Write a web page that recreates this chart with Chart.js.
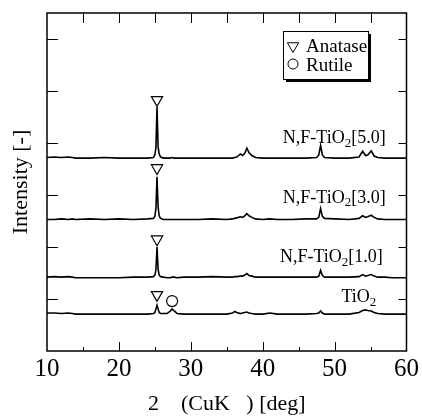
<!DOCTYPE html>
<html>
<head>
<meta charset="utf-8">
<script src="https://cdn.jsdelivr.net/npm/chart.js@4.4.0/dist/chart.umd.min.js"></script>
<style>
html, body { margin: 0; padding: 0; background: #fff; }
</style>
</head>
<body>
<canvas id="xrd" width="422" height="417"></canvas>
<script>
// 2theta positions shared by all patterns
const twoTheta = [
  10, 11, 12, 13, 13.5, 14, 16, 18, 20, 22,
  24, 24.8, 25.0, 25.15, 25.3, 25.45, 25.6, 25.8, 26.2, 26.7,
  27.1, 27.4, 27.7, 28.1, 29, 31, 33, 35, 35.8, 36.1,
  36.4, 36.9, 37.2, 37.5, 37.8, 38.1, 38.5, 39.0, 40, 41,
  42, 44, 46, 47.5, 47.8, 48.05, 48.3, 48.6, 50, 52,
  53.4, 53.9, 54.3, 54.6, 55.1, 55.5, 56, 57, 58, 60
];

// intensities above each pattern's own baseline
const intTiO2 = [
  0.02, 0.02, 0.01, 0.02, 0.01, 0, 0, 0, 0, 0,
  0, 0.01, 0.03, 0.10, 0.17, 0.10, 0.03, 0.01, 0.01, 0.01,
  0.05, 0.10, 0.06, 0.01, 0, 0, 0, 0, 0.02, 0.05,
  0.03, 0.01, 0.02, 0.03, 0.04, 0.02, 0.01, 0, 0, 0.02,
  0, 0, 0, 0.01, 0.02, 0.06, 0.02, 0, 0, 0,
  0.03, 0.07, 0.08, 0.07, 0.06, 0.03, 0.01, 0, 0, 0
];
const intNF10 = [
  0.02, 0.03, 0.02, 0.03, 0.02, 0.01, 0.01, 0.01, 0.01, 0.02,
  0.02, 0.03, 0.06, 0.16, 0.60, 0.18, 0.06, 0.03, 0.02, 0.01,
  0.01, 0.02, 0.02, 0.01, 0.02, 0.02, 0.03, 0.02, 0.02, 0.03,
  0.03, 0.04, 0.04, 0.06, 0.09, 0.05, 0.04, 0.02, 0.02, 0.02,
  0.02, 0.02, 0.02, 0.02, 0.04, 0.15, 0.05, 0.02, 0.02, 0.02,
  0.03, 0.07, 0.04, 0.05, 0.07, 0.04, 0.02, 0.02, 0.01, 0.01
];
const intNF30 = [
  0.01, 0.01, 0.02, 0.01, 0.02, 0.01, 0.02, 0.01, 0.02, 0.01,
  0.02, 0.03, 0.07, 0.22, 0.83, 0.25, 0.08, 0.03, 0.01, 0.01,
  0.01, 0.01, 0.01, 0.01, 0.01, 0.01, 0.02, 0.01, 0.02, 0.03,
  0.04, 0.06, 0.05, 0.08, 0.12, 0.08, 0.05, 0.02, 0.01, 0.02,
  0.01, 0.01, 0.02, 0.02, 0.05, 0.22, 0.07, 0.03, 0.02, 0.01,
  0.03, 0.08, 0.05, 0.06, 0.09, 0.05, 0.02, 0.01, 0.01, 0.01
];
const intNF50 = [
  0.01, 0.02, 0.01, 0.02, 0.01, 0, 0, 0.01, 0, 0,
  0, 0.01, 0.06, 0.20, 0.98, 0.22, 0.08, 0.02, 0, 0,
  0, 0.01, 0, 0, 0, 0, 0, 0, 0, 0.01,
  0.02, 0.08, 0.05, 0.09, 0.19, 0.10, 0.05, 0.01, 0, 0,
  0, 0, 0, 0.01, 0.06, 0.24, 0.06, 0.01, 0, 0,
  0.02, 0.13, 0.05, 0.06, 0.14, 0.04, 0.01, 0, 0, 0
];

const sampleNames = ['TiO2', 'N,F-TiO2[1.0]', 'N,F-TiO2[3.0]', 'N,F-TiO2[5.0]'];
const patterns = [intTiO2, intNF10, intNF30, intNF50];
const offsets = [0.71, 1.40, 2.52, 3.71];

// peak markers
const anataseX = 25.3;
const anataseY = [1.08, 2.15, 3.52, 4.83];
const rutileX = 27.4;
const rutileY = [0.96];

// name label anchors (right edge, text baseline)
const labelX = [55.8, 56.7, 57.1, 57.1];
const labelY = [0.94, 1.71, 2.85, 4.0];

const xTicks = [10, 20, 30, 40, 50, 60];
const serif = '"Liberation Serif", "Times New Roman", serif';

const datasets = patterns.map((p, i) => ({
  label: sampleNames[i],
  data: twoTheta.map((t, j) => ({ x: t, y: p[j] + offsets[i] })),
  borderColor: '#000',
  borderWidth: 1.6,
  pointRadius: 0,
  tension: 0,
  fill: false
}));

datasets.push({
  label: 'Anatase',
  data: anataseY.map(v => ({ x: anataseX, y: v })),
  showLine: false,
  pointStyle: 'triangle',
  rotation: 180,
  pointRadius: 6.5,
  pointBorderWidth: 1.2,
  pointBorderColor: '#000',
  pointBackgroundColor: '#fff'
});
datasets.push({
  label: 'Rutile',
  data: rutileY.map(v => ({ x: rutileX, y: v })),
  showLine: false,
  pointStyle: 'circle',
  pointRadius: 5.5,
  pointBorderWidth: 1.2,
  pointBorderColor: '#000',
  pointBackgroundColor: '#fff'
});

// TiO2 with subscript 2
function drawChem(ctx, text, xRight, y, size) {
  const k = text.indexOf('TiO2');
  const a = text.slice(0, k + 3), c = text.slice(k + 4);
  const big = size + 'px ' + serif, small = (size * 0.72) + 'px ' + serif;
  ctx.font = big;
  const wa = ctx.measureText(a).width, wc = ctx.measureText(c).width;
  ctx.font = small;
  const wb = ctx.measureText('2').width;
  let x = xRight - wa - wb - wc;
  ctx.textAlign = 'left';
  ctx.textBaseline = 'alphabetic';
  ctx.font = big; ctx.fillText(a, x, y); x += wa;
  ctx.font = small; ctx.fillText('2', x, y + size * 0.2); x += wb;
  ctx.font = big; ctx.fillText(c, x, y);
}

const decor = {
  id: 'decor',
  afterDraw(chart) {
    const { ctx, chartArea: a, scales: { x, y } } = chart;
    ctx.save();
    ctx.strokeStyle = '#000';
    ctx.fillStyle = '#000';
    ctx.lineWidth = 1.5;
    ctx.strokeRect(a.left, a.top, a.right - a.left, a.bottom - a.top);

    // inward ticks
    ctx.lineWidth = 1;
    ctx.beginPath();
    for (let t = 15; t < 60; t += 5) {
      const px = Math.round(x.getPixelForValue(t)) + 0.5;
      const len = t % 10 === 0 ? 9 : 4;
      ctx.moveTo(px, a.bottom); ctx.lineTo(px, a.bottom - len);
      ctx.moveTo(px, a.top); ctx.lineTo(px, a.top + 10);
    }
    for (let v = 1; v <= 6; v++) {
      const py = Math.round(y.getPixelForValue(v)) + 0.5;
      ctx.moveTo(a.left, py); ctx.lineTo(a.left + 11, py);
      ctx.moveTo(a.right, py); ctx.lineTo(a.right - 8, py);
    }
    ctx.stroke();

    // sample names
    sampleNames.forEach((n, i) => {
      drawChem(ctx, n, x.getPixelForValue(labelX[i]), y.getPixelForValue(labelY[i]), 18);
    });

    // legend box with shadow
    const bx = 283, by = 31, bw = 85, bh = 48;
    ctx.fillRect(bx + 3, by + 3, bw, bh);
    ctx.fillStyle = '#fff';
    ctx.fillRect(bx, by, bw, bh);
    ctx.lineWidth = 1;
    ctx.strokeRect(bx + 0.5, by + 0.5, bw, bh);
    Chart.helpers.drawPoint(ctx, { pointStyle: 'triangle', rotation: 180, radius: 6.5, borderWidth: 1.2 }, bx + 10, by + 15);
    Chart.helpers.drawPoint(ctx, { pointStyle: 'circle', rotation: 0, radius: 5, borderWidth: 1.2 }, bx + 10, by + 33);
    ctx.fillStyle = '#000';
    ctx.font = '19px ' + serif;
    ctx.textAlign = 'left';
    ctx.textBaseline = 'alphabetic';
    ctx.fillText('Anatase', bx + 23, by + 21);
    ctx.fillText('Rutile', bx + 23, by + 40);
    ctx.restore();
  }
};

new Chart(document.getElementById('xrd'), {
  type: 'line',
  data: { datasets },
  options: {
    responsive: false,
    animation: false,
    layout: { padding: { top: 13, right: 15, left: 0, bottom: 0 } },
    plugins: { legend: { display: false }, tooltip: { enabled: false } },
    scales: {
      x: {
        type: 'linear',
        min: 10,
        max: 60,
        afterBuildTicks: s => { s.ticks = xTicks.map(v => ({ value: v })); },
        afterFit: s => { s.height = 66; },
        grid: { display: false, drawTicks: false },
        border: { display: false },
        ticks: { color: '#000', padding: 3, maxRotation: 0, font: { family: serif, size: 25 } },
        title: {
          display: true,
          text: '2    (CuK   ) [deg]',
          color: '#000',
          padding: 0,
          font: { family: serif, size: 22 }
        }
      },
      y: {
        min: 0,
        max: 6.5,
        afterFit: s => { s.width = 47; },
        grid: { display: false, drawTicks: false },
        border: { display: false },
        ticks: { display: false },
        title: {
          display: true,
          text: 'Intensity [-]',
          color: '#000',
          padding: { top: 8, bottom: 0 },
          font: { family: serif, size: 22 }
        }
      }
    }
  },
  plugins: [decor]
});
</script>
</body>
</html>
